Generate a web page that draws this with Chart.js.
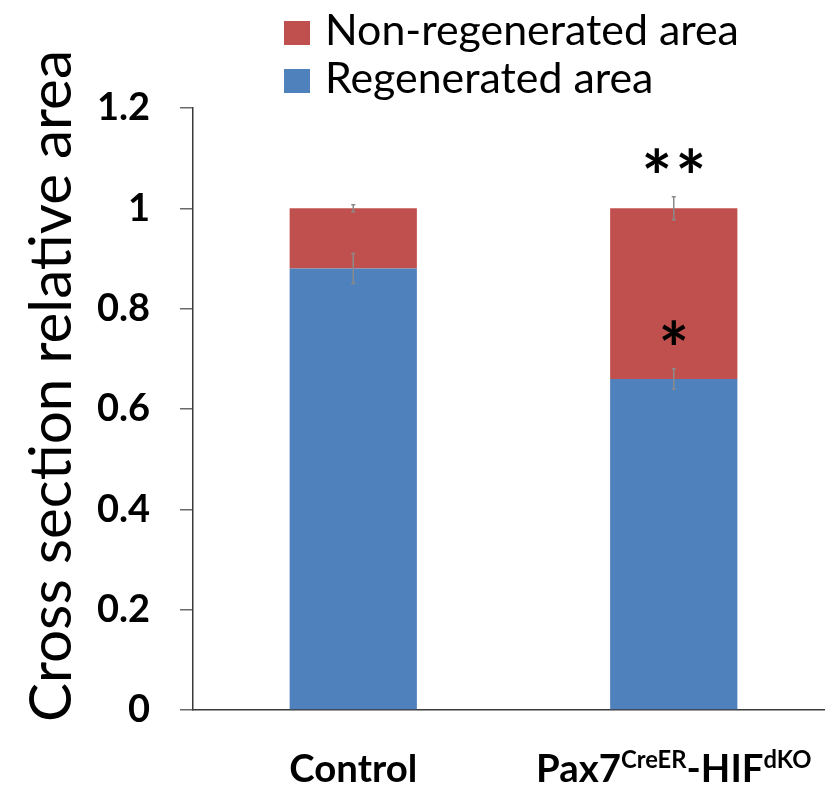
<!DOCTYPE html>
<html>
<head>
<meta charset="utf-8">
<script src="https://cdn.jsdelivr.net/npm/chart.js@4.4.1/dist/chart.umd.min.js"></script>
<style>
  html, body { margin: 0; padding: 0; background: #fff; overflow: hidden; }
</style>
</head>
<body>
<!-- canvas a bit wider than the window: the x axis runs off the right edge in the original -->
<canvas id="myChart" width="834" height="786"></canvas>
<script>
// values
const groups = ['Control', 'Pax7CreER-HIFdKO'];
const regenerated = [0.88, 0.66];
const regeneratedErr = [0.03, 0.02];
const nonRegenerated = [0.12, 0.34];
const nonRegeneratedErr = [0.007, 0.023];
const yTicks = [0, 0.2, 0.4, 0.6, 0.8, 1, 1.2];
const starsTop = ['', '**'];
const starsRegen = ['', '*'];
// label pieces: [text, isSuperscript]
const groupLabelParts = [
    [['Control', false]],
    [['Pax7', false], ['CreER', true], ['-HIF', false], ['dKO', true]]
];

const FONT = 'Lato, "Open Sans", sans-serif';
const ctx = document.getElementById('myChart');

// pick a font size so a string fills a given width
function fitSize(c, text, weight, target) {
    c.font = weight + ' 100px ' + FONT;
    return 100 * target / c.measureText(text).width;
}

const extras = {
    id: 'extras',
    afterDatasetsDraw(chart) {
        const c = chart.ctx;
        const y = chart.scales.y;
        const sets = chart.data.datasets;

        // error bars
        c.save();
        c.strokeStyle = '#8a8a8a';
        c.lineWidth = 1.5;
        for (let i = 0; i < groups.length; i++) {
            let base = 0;
            for (let d = 0; d < sets.length; d++) {
                let bar = chart.getDatasetMeta(d).data[i];
                let top = base + sets[d].data[i];
                let e = sets[d].err[i];
                let y1 = y.getPixelForValue(top + e);
                let y2 = y.getPixelForValue(top - e);
                c.beginPath();
                c.moveTo(bar.x, y1); c.lineTo(bar.x, y2);
                c.moveTo(bar.x - 2, y1); c.lineTo(bar.x + 2, y1);
                c.moveTo(bar.x - 2, y2); c.lineTo(bar.x + 2, y2);
                c.stroke();
                base = top;
            }
        }
        c.restore();

        // significance stars
        c.save();
        c.fillStyle = '#000';
        c.textAlign = 'center';
        c.textBaseline = 'middle';
        c.font = 'bold 72px ' + FONT;
        for (let i = 0; i < groups.length; i++) {
            let bar = chart.getDatasetMeta(0).data[i];
            let total = regenerated[i] + nonRegenerated[i];
            if (starsTop[i]) {
                let yy = y.getPixelForValue(total + nonRegeneratedErr[i]) - 16;
                for (let k = 0; k < starsTop[i].length; k++) {
                    c.fillText('*', bar.x + (k - (starsTop[i].length - 1) / 2) * 34, yy);
                }
            }
            if (starsRegen[i]) {
                let yy = y.getPixelForValue(regenerated[i] + regeneratedErr[i]) - 16;
                c.fillText(starsRegen[i], bar.x, yy);
            }
        }
        c.restore();
    },
    afterDraw(chart) {
        const c = chart.ctx;
        const x = chart.scales.x;
        const sets = chart.data.datasets;
        c.save();
        c.fillStyle = '#000';

        // legend, top dataset first
        let legendSize = fitSize(c, 'Non-regenerated area', 'normal', 414);
        c.font = 'normal ' + legendSize + 'px ' + FONT;
        c.textAlign = 'left';
        c.textBaseline = 'alphabetic';
        let order = sets.slice().reverse();
        for (let k = 0; k < order.length; k++) {
            let top = 21 + k * 48;
            c.fillStyle = order[k].backgroundColor;
            c.fillRect(284, top, 26, 24);
            c.fillStyle = '#000';
            c.fillText(order[k].label, 325, top + 24);
        }

        // category labels with superscripts
        let mainSize = fitSize(c, 'Control', 'bold', 128);
        let supSize = mainSize * 0.62;
        for (let i = 0; i < groupLabelParts.length; i++) {
            let parts = groupLabelParts[i];
            let widths = parts.map(p => {
                c.font = 'bold ' + (p[1] ? supSize : mainSize) + 'px ' + FONT;
                return c.measureText(p[0]).width;
            });
            let total = widths.reduce((a, b) => a + b, 0);
            let px = x.getPixelForTick(i) - total / 2;
            for (let k = 0; k < parts.length; k++) {
                c.font = 'bold ' + (parts[k][1] ? supSize : mainSize) + 'px ' + FONT;
                c.fillText(parts[k][0], px, parts[k][1] ? 768 : 782);
                px += widths[k];
            }
        }

        // y axis title
        let titleText = 'Cross section relative area';
        let titleSize = fitSize(c, titleText, 'normal', 672);
        c.font = 'normal ' + titleSize + 'px ' + FONT;
        c.translate(71, 386);
        c.rotate(-Math.PI / 2);
        c.textAlign = 'center';
        c.fillText(titleText, 0, 0);
        c.restore();
    }
};

const chart = new Chart(ctx, {
    type: 'bar',
    data: {
        labels: groups,
        datasets: [
            {
                label: 'Regenerated area',
                data: regenerated,
                err: regeneratedErr,
                backgroundColor: '#4F81BD'
            },
            {
                label: 'Non-regenerated area',
                data: nonRegenerated,
                err: nonRegeneratedErr,
                backgroundColor: '#C0504D'
            }
        ]
    },
    options: {
        responsive: false,
        animation: false,
        devicePixelRatio: 1,
        categoryPercentage: 1,
        barPercentage: 0.397,
        layout: { padding: { top: 108, left: 0, right: 0, bottom: 76 } },
        plugins: { legend: { display: false }, tooltip: { enabled: false } },
        scales: {
            x: {
                stacked: true,
                offset: true,
                grid: { drawOnChartArea: false, drawTicks: false },
                border: { color: '#3a3a3a', width: 1.5 },
                ticks: { display: false }
            },
            y: {
                stacked: true,
                min: 0,
                max: 1.2,
                afterFit: s => { s.width = 193; },
                afterBuildTicks: s => { s.ticks = yTicks.map(v => ({ value: v })); },
                ticks: {
                    color: '#000',
                    padding: 30,
                    font: { family: FONT, weight: 'bold', size: 38 },
                    callback: v => String(Math.round(v * 10) / 10)
                },
                grid: { drawOnChartArea: false, tickLength: 13, color: '#6a6a6a', lineWidth: 1.5 },
                border: { color: '#3a3a3a', width: 1.5 }
            }
        }
    },
    plugins: [extras]
});
</script>
</body>
</html>
